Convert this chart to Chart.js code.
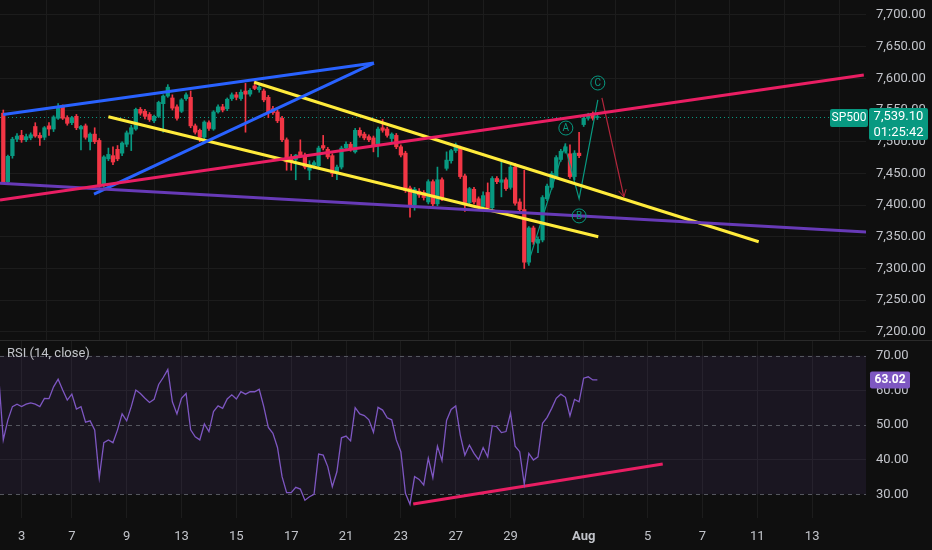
<!DOCTYPE html>
<html>
<head>
<meta charset="utf-8">
<style>
  html, body { margin: 0; padding: 0; background: #0f0f0f; width: 932px; height: 550px; overflow: hidden; }
  #main { position: absolute; left: 0; top: 0; width: 932px; height: 340px; }
  #sep { position: absolute; left: 0; top: 340px; width: 932px; height: 1px; background: #2a2a2a; }
  #rsi { position: absolute; left: 0; top: 341px; width: 932px; height: 209px; }
</style>
<script src="https://cdn.jsdelivr.net/npm/chart.js@4.4.1/dist/chart.umd.min.js"></script>
</head>
<body>
<div id="main"><canvas id="mainChart"></canvas></div>
<div id="sep"></div>
<div id="rsi"><canvas id="rsiChart"></canvas></div>
<script>
// hourly candles, index 0 = first bar on screen
const opens  = [7545,7437,7478,7504,7510,7503,7506,7524,7510,7507,7525,7520,7537,7555,7538,7530,7540,7520,7525,7500,
                7512,7502,7432,7473,7478,7488,7482,7496,7512,7520,7551,7548,7543,7533,7540,7560,7572,7569,7555,7548,
                7568,7570,7525,7518,7507,7530,7520,7547,7555,7552,7568,7574,7568,7580,7575,7588,7582,7580,7570,7552,
                7547,7537,7503,7476,7472,7484,7478,7455,7463,7462,7494,7488,7478,7450,7460,7490,7496,7484,7518,7512,
                7508,7506,7495,7522,7520,7505,7510,7492,7482,7427,7400,7422,7420,7405,7437,7402,7440,7458,7470,7486,
                7490,7446,7404,7425,7410,7398,7420,7396,7442,7436,7440,7428,7460,7405,7393,7310,7364,7340,7345,7410,
                7428,7445,7472,7485,7481,7445,7482,7527,7537,7544,7538];
const highs  = [7550,7479,7507,7513,7518,7512,7514,7530,7514,7524,7530,7541,7560,7558,7541,7540,7543,7526,7528,7514,
                7522,7505,7478,7490,7492,7494,7500,7517,7526,7553,7554,7551,7546,7542,7564,7574,7590,7574,7558,7568,
                7577,7580,7528,7520,7533,7533,7549,7558,7559,7569,7577,7578,7582,7592,7584,7595,7589,7583,7573,7556,
                7550,7540,7506,7480,7480,7503,7482,7470,7470,7493,7510,7491,7481,7463,7493,7500,7499,7521,7522,7515,
                7511,7509,7523,7535,7523,7514,7513,7495,7485,7430,7428,7426,7423,7440,7440,7460,7443,7484,7488,7498,
                7493,7449,7428,7428,7413,7421,7435,7445,7445,7471,7443,7463,7466,7410,7455,7366,7367,7350,7415,7433,
                7453,7478,7488,7497,7495,7486,7515,7540,7545,7547,7542];
const lows   = [7434,7434,7474,7500,7499,7500,7503,7507,7494,7503,7510,7516,7535,7535,7526,7527,7519,7487,7504,7487,
                7497,7428,7428,7470,7464,7470,7478,7492,7486,7518,7542,7536,7532,7530,7538,7515,7570,7550,7534,7546,
                7565,7522,7512,7500,7500,7518,7518,7545,7547,7549,7565,7566,7565,7515,7572,7582,7578,7563,7538,7543,
                7530,7500,7455,7455,7440,7476,7457,7440,7458,7458,7487,7473,7445,7440,7457,7486,7485,7482,7507,7503,
                7500,7484,7476,7515,7507,7500,7489,7476,7420,7381,7392,7412,7408,7402,7399,7399,7407,7455,7466,7483,
                7442,7390,7400,7402,7395,7394,7393,7393,7434,7413,7423,7425,7400,7390,7300,7305,7338,7325,7342,7407,
                7425,7442,7469,7482,7442,7440,7475,7524,7534,7534,7535];
const closes = [7437,7477,7504,7509,7503,7508,7511,7509,7506,7522,7520,7539,7555,7537,7529,7538,7522,7524,7507,7512,
                7500,7432,7476,7480,7468,7473,7498,7514,7522,7551,7545,7540,7535,7540,7562,7572,7586,7553,7537,7566,
                7574,7525,7515,7507,7531,7521,7547,7555,7550,7567,7574,7570,7578,7575,7581,7584,7586,7566,7547,7546,
                7533,7503,7468,7470,7479,7478,7460,7464,7467,7490,7490,7476,7450,7460,7490,7496,7488,7518,7510,7506,
                7503,7495,7520,7518,7510,7512,7492,7479,7423,7400,7425,7416,7412,7437,7402,7440,7410,7471,7486,7495,
                7445,7404,7426,7405,7398,7415,7396,7442,7437,7440,7426,7460,7403,7393,7310,7364,7342,7346,7412,7430,
                7450,7475,7485,7492,7445,7482,7478,7537,7542,7537,7539.1];

// RSI(14, close); first value belongs to the bar just left of the screen
const rsiStart = -1;
const rsiValues = [64.0,
  45.7,51.4,55.3,56.0,55.3,56.0,56.4,56.0,55.3,57.7,57.6,61.0,63.2,60.1,57.2,58.9,54.6,55.3,50.8,51.2,
  48.6,34.8,44.9,45.7,44.9,48.6,53.2,51.2,55.3,60.1,59.1,57.7,56.5,57.4,61.7,63.7,66.0,56.7,53.2,57.7,
  59.1,48.6,46.6,45.7,50.3,48.1,53.9,55.5,54.8,57.5,58.7,57.5,59.6,58.9,59.6,59.6,60.3,55.3,49.3,47.6,
  43.5,35.1,30.5,30.5,32.0,31.5,28.3,29.3,30.0,41.6,41.3,38.0,32.2,36.5,46.3,46.8,45.4,55.0,53.2,52.7,
  51.5,47.9,55.1,54.3,52.1,51.5,45.7,42.3,30.3,27.1,35.1,34.3,32.7,40.4,34.8,43.9,39.7,51.3,54.5,55.5,
  47.1,41.3,44.2,41.8,40.0,43.5,40.8,49.8,49.5,47.8,48.1,53.4,43.9,42.3,32.9,41.8,39.9,40.8,50.5,52.2,
  54.8,57.7,58.9,58.0,52.6,57.4,56.7,63.5,63.9,63.0,63.02];

const tickIdx  = [4, 15, 27, 39, 51, 63, 75, 87, 99, 111, 127, 141, 153, 165, 177];
const tickText = ['3','7','9','13','15','17','21','23','27','29','Aug','5','7','11','13'];
const priceTicks = [7200, 7250, 7300, 7350, 7400, 7450, 7500, 7550, 7600, 7650, 7700];
const rsiTicks = [30, 40, 50, 60, 70];
const rsiLevels = [30, 50, 70];

// drawings: [index, price]
const blueUpper   = [[0, 7543], [81.1, 7624]];
const blueLower   = [[19.85, 7417.5], [81.1, 7624]];
const yellowUpper = [[54.9, 7593.7], [165.3, 7342.3]];
const yellowLower = [[23.0, 7539.4], [130.2, 7350.2]];
const pinkLine    = [[-0.72, 7408.1], [188.3, 7605.2]];
const purpleLine  = [[-0.72, 7434.4], [188.8, 7357.6]];
const wavePath    = [[114.8, 7307], [122.9, 7493.5], [126, 7410], [130.1, 7566]];
const waveLabels  = ['A', 'B', 'C'];
const waveLabelX  = [123.1, 126, 130.1];
const waveLabelY  = [7521.6, 7383, 7592.6];
const arrowPath   = [[131.0, 7569], [135.8, 7413]];
const rsiTrend    = [[89.7, 27.2], [144.3, 38.75]];

const lastPrice = 7539.1;
const lastPriceText = '7,539.10';
const countdownText = '01:25:42';
const symbolText = 'SP500';
const lastRsiText = '63.02';

const xMin = -0.72, xMax = 188.78;
const gridColor = '#1c1c1c';
const textColor = '#c2c4ca';
const up = '#089981', down = '#f23645';
const fontFamily = 'Roboto, "Liberation Sans", sans-serif';

const pts = arr => arr.map(p => ({ x: p[0], y: p[1] }));
const candleColors = opens.map((o, i) => closes[i] >= o ? up : down);
const fmtPrice = v => Number(v).toLocaleString('en-US', { minimumFractionDigits: 2, maximumFractionDigits: 2 });

function trend(data, color, width) {
  return { type: 'line', data: pts(data), borderColor: color, borderWidth: width, pointRadius: 0, order: 0, tension: 0 };
}

function noPad(s) {
  s.paddingTop = 0; s.paddingBottom = 0; s.paddingLeft = 0; s.paddingRight = 0;
}

function xScale(showLabels) {
  return {
    type: 'linear', min: xMin, max: xMax, offset: false,
    grid: { color: gridColor, drawTicks: false },
    border: { display: false },
    ticks: {
      display: showLabels, autoSkip: false, maxRotation: 0, padding: 11, color: textColor,
      font: c => ({ size: 13, family: fontFamily, weight: tickText[c.index] === 'Aug' ? 'bold' : 'normal' }),
      callback: (v, i) => tickText[i]
    },
    afterBuildTicks: s => { s.ticks = tickIdx.map(v => ({ value: v })); },
    afterFit: s => { s.height = showLabels ? 32 : 0; noPad(s); }
  };
}

function yScale(min, max, ticks, fmt, grid) {
  return {
    position: 'right', min: min, max: max,
    grid: { color: grid, drawTicks: false },
    border: { display: false },
    ticks: { color: textColor, padding: 10, font: { size: 13 }, callback: fmt },
    afterBuildTicks: s => { s.ticks = ticks.map(v => ({ value: v })); },
    afterFit: s => { s.width = 66; noPad(s); }
  };
}

function tag(ctx, x, y, w, h, fill, lines, font) {
  ctx.fillStyle = fill;
  ctx.beginPath();
  ctx.roundRect(x, y, w, h, 2);
  ctx.fill();
  ctx.fillStyle = '#ffffff';
  ctx.font = font;
  ctx.textAlign = 'center';
  ctx.textBaseline = 'middle';
  const step = h / lines.length;
  lines.forEach((t, k) => ctx.fillText(t, x + w / 2, y + step * (k + 0.5) + 0.5));
}

const mainOverlay = {
  id: 'mainOverlay',
  beforeDatasetsDraw(chart) {
    const { ctx, chartArea: a, scales: { y } } = chart;
    const py = Math.round(y.getPixelForValue(lastPrice)) + 0.5;
    ctx.save();
    ctx.strokeStyle = up;
    ctx.lineWidth = 1;
    ctx.setLineDash([1, 3]);
    ctx.beginPath(); ctx.moveTo(a.left, py); ctx.lineTo(a.right, py); ctx.stroke();
    ctx.restore();
  },
  afterDatasetsDraw(chart) {
    const { ctx, scales: { x, y } } = chart;
    ctx.save();
    // wave labels
    ctx.lineWidth = 1;
    ctx.strokeStyle = up;
    ctx.fillStyle = up;
    ctx.font = '10px ' + fontFamily;
    ctx.textAlign = 'center';
    ctx.textBaseline = 'middle';
    waveLabels.forEach((t, k) => {
      const px = x.getPixelForValue(waveLabelX[k]), py = y.getPixelForValue(waveLabelY[k]);
      ctx.beginPath(); ctx.arc(px, py, 7, 0, Math.PI * 2); ctx.stroke();
      ctx.fillText(t, px, py + 0.5);
    });
    // arrow head
    const x0 = x.getPixelForValue(arrowPath[0][0]), y0 = y.getPixelForValue(arrowPath[0][1]);
    const x1 = x.getPixelForValue(arrowPath[1][0]), y1 = y.getPixelForValue(arrowPath[1][1]);
    const ang = Math.atan2(y1 - y0, x1 - x0);
    ctx.strokeStyle = '#b3263c';
    ctx.beginPath();
    ctx.moveTo(x1 - 8 * Math.cos(ang - 0.5), y1 - 8 * Math.sin(ang - 0.5));
    ctx.lineTo(x1, y1);
    ctx.lineTo(x1 - 8 * Math.cos(ang + 0.5), y1 - 8 * Math.sin(ang + 0.5));
    ctx.stroke();
    ctx.restore();
  },
  afterDraw(chart) {
    const { ctx, chartArea: a, scales: { y } } = chart;
    const py = y.getPixelForValue(lastPrice);
    ctx.save();
    tag(ctx, a.right - 36, py - 8, 38, 18, up, [symbolText], '12px ' + fontFamily);
    tag(ctx, a.right + 3, py - 9, 59, 32, up, [lastPriceText, countdownText], '13px ' + fontFamily);
    ctx.restore();
  }
};

const rsiOverlay = {
  id: 'rsiOverlay',
  beforeDatasetsDraw(chart) {
    const { ctx, chartArea: a, scales: { y } } = chart;
    ctx.save();
    const top = y.getPixelForValue(70), bot = y.getPixelForValue(30);
    ctx.fillStyle = 'rgba(126, 87, 194, 0.1)';
    ctx.fillRect(a.left, top, a.right - a.left, bot - top);
    ctx.strokeStyle = '#55575f';
    ctx.lineWidth = 1;
    ctx.setLineDash([4, 4]);
    rsiLevels.forEach(v => {
      const py = Math.round(y.getPixelForValue(v)) + 0.5;
      ctx.beginPath(); ctx.moveTo(a.left, py); ctx.lineTo(a.right, py); ctx.stroke();
    });
    ctx.restore();
  },
  afterDraw(chart) {
    const { ctx, chartArea: a, scales: { y } } = chart;
    ctx.save();
    ctx.fillStyle = textColor;
    ctx.font = '13px ' + fontFamily;
    ctx.textAlign = 'left';
    ctx.textBaseline = 'middle';
    ctx.fillText('RSI (14, close)', 7, 13);
    const py = y.getPixelForValue(rsiValues[rsiValues.length - 1]);
    tag(ctx, a.right + 4, py - 8.5, 40, 17, '#7e57c2', [lastRsiText], 'bold 12px ' + fontFamily);
    ctx.restore();
  }
};

Chart.defaults.font.family = fontFamily;

new Chart(document.getElementById('mainChart'), {
  type: 'bar',
  data: {
    datasets: [
      trend(pinkLine, '#e91e63', 3),
      trend(purpleLine, '#673ab7', 3),
      trend(blueUpper, '#2962ff', 3),
      trend(blueLower, '#2962ff', 3),
      trend(yellowUpper, '#ffeb3b', 3),
      trend(yellowLower, '#ffeb3b', 3),
      trend(wavePath, up, 1.2),
      trend(arrowPath, '#b3263c', 1.2),
      {
        type: 'bar', order: 1, grouped: false, barThickness: 3.6, minBarLength: 1, borderWidth: 0,
        data: opens.map((o, i) => ({ x: i, y: [o, closes[i]] })),
        backgroundColor: candleColors
      },
      {
        type: 'bar', order: 2, grouped: false, barThickness: 1, borderWidth: 0,
        data: lows.map((l, i) => ({ x: i, y: [l, highs[i]] })),
        backgroundColor: candleColors
      }
    ]
  },
  options: {
    responsive: true, maintainAspectRatio: false, animation: false,
    layout: { padding: 0, autoPadding: false },
    plugins: { legend: { display: false }, tooltip: { enabled: false } },
    scales: {
      x: xScale(false),
      y: yScale(7187.3, 7723.5, priceTicks, v => fmtPrice(v), gridColor)
    }
  },
  plugins: [mainOverlay]
});

new Chart(document.getElementById('rsiChart'), {
  type: 'line',
  data: {
    datasets: [
      { data: rsiValues.map((v, k) => ({ x: k + rsiStart, y: v })), borderColor: '#7e57c2', borderWidth: 1.3, pointRadius: 0, tension: 0 },
      { data: pts(rsiTrend), borderColor: '#e91e63', borderWidth: 3, pointRadius: 0 }
    ]
  },
  options: {
    responsive: true, maintainAspectRatio: false, animation: false,
    layout: { padding: 0, autoPadding: false },
    plugins: { legend: { display: false }, tooltip: { enabled: false } },
    scales: {
      x: xScale(true),
      y: yScale(23.16, 74.24, rsiTicks, v => Number(v).toFixed(2),
                c => rsiLevels.includes(c.tick.value) ? 'rgba(0,0,0,0)' : gridColor)
    }
  },
  plugins: [rsiOverlay]
});
</script>
</body>
</html>
